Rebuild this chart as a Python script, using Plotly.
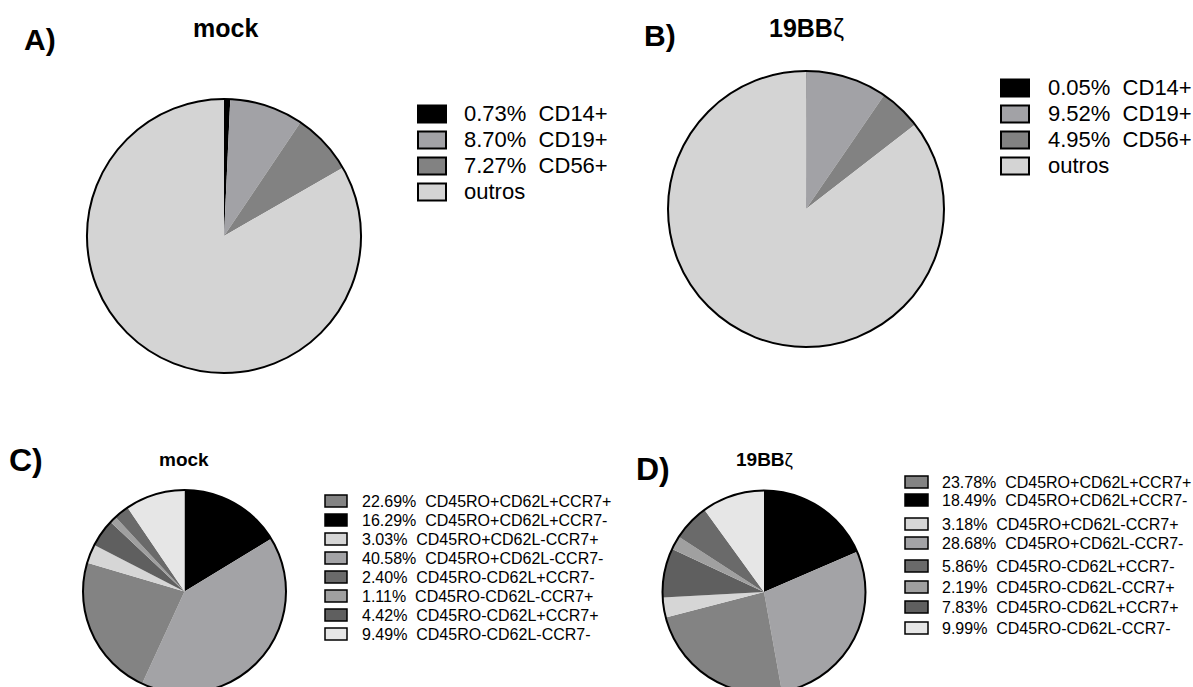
import plotly.graph_objects as go

W, H = 1193, 700  # page viewport is 687 tall; lower pies are cut at the bottom like the reference
FONT = "Liberation Sans, Arial, Helvetica, sans-serif"

# ---------------- data ----------------
top_labels = ["CD14+", "CD19+", "CD56+", "outros"]
mock_top = [0.73, 8.70, 7.27, 83.30]
car_top = [0.05, 9.52, 4.95, 85.48]
top_colors = ["#000000", "#a2a2a6", "#828282", "#d4d4d4"]

mem_labels = ["CD45RO+CD62L+CCR7+", "CD45RO+CD62L+CCR7-", "CD45RO+CD62L-CCR7+",
              "CD45RO+CD62L-CCR7-", "CD45RO-CD62L+CCR7-", "CD45RO-CD62L-CCR7+",
              "CD45RO-CD62L+CCR7+", "CD45RO-CD62L-CCR7-"]
mock_mem = [22.69, 16.29, 3.03, 40.58, 2.40, 1.11, 4.42, 9.49]
car_mem = [23.78, 18.49, 3.18, 28.68, 5.86, 2.19, 7.83, 9.99]
mem_colors = ["#838383", "#000000", "#d6d6d6", "#a3a3a6",
              "#6a6a6a", "#a0a0a0", "#5f5f5f", "#e6e6e6"]
# order in which the slices are drawn clockwise from 12 o'clock
mem_slice_order = [1, 3, 0, 2, 6, 5, 4, 7]


def px(x):
    return x / W


def py(y):
    return 1 - y / H


fig = go.Figure()


def add_pie(labels, values, colors, cx, cy, r, name):
    dom = dict(x=[px(cx - r), px(cx + r)], y=[py(cy + r), py(cy - r)])
    fig.add_trace(go.Pie(
        labels=labels, values=values, marker=dict(colors=colors, line=dict(width=0)),
        sort=False, direction="clockwise", rotation=0, textinfo="none",
        hoverinfo="label+value", showlegend=False, domain=dom, name=name))
    # outer outline only
    fig.add_trace(go.Pie(
        labels=[name + " outline"], values=[1],
        marker=dict(colors=["rgba(0,0,0,0)"], line=dict(color="black", width=2)),
        textinfo="none", hoverinfo="skip", showlegend=False, domain=dom, sort=False))


def add_legend(x0, rows, bw, bh, tx, colors, texts, size, lw):
    for y, c, t in zip(rows, colors, texts):
        fig.add_shape(type="rect", xref="paper", yref="paper",
                      x0=px(x0), x1=px(x0 + bw), y0=py(y + bh / 2), y1=py(y - bh / 2),
                      fillcolor=c, line=dict(color="black", width=lw))
        fig.add_annotation(x=px(tx), y=py(y), xref="paper", yref="paper", text=t,
                           xanchor="left", yanchor="middle", showarrow=False,
                           font=dict(family=FONT, size=size, color="black"))


def add_text(x, y, text, size):
    fig.add_annotation(x=px(x), y=py(y), xref="paper", yref="paper", text=text,
                       xanchor="center", yanchor="middle", showarrow=False,
                       font=dict(family=FONT, size=size, color="black"))


# A) and B)
add_pie(top_labels, mock_top, top_colors, 224, 236, 137, "mock")
add_pie(top_labels, car_top, top_colors, 806, 209, 138, "19BBz")


def top_text(vals):
    out = []
    for v, l in zip(vals, top_labels):
        out.append(l if l == "outros" else f"{v:.2f}%\u00a0 {l}")
    return out


add_legend(418, [114, 140, 166, 192], 28, 17, 462, top_colors, top_text(mock_top), 22, 2)
add_legend(1001, [88, 114, 140, 166], 28, 17, 1046, top_colors, top_text(car_top), 22, 2)

# C) and D)
for vals, cx, cy, nm in [(mock_mem, 184.5, 591.5, "mock mem"), (car_mem, 764, 592, "19BBz mem")]:
    add_pie([mem_labels[i] for i in mem_slice_order],
            [vals[i] for i in mem_slice_order],
            [mem_colors[i] for i in mem_slice_order], cx, cy, 101.5, nm)

add_legend(325, [501 + 19 * i for i in range(8)], 22, 12, 360, mem_colors,
           [f"{v:.2f}%\u00a0 {l}" for v, l in zip(mock_mem, mem_labels)], 16, 1.5)
add_legend(905, [482, 500, 524, 543, 566, 587, 607, 628], 23, 12, 940, mem_colors,
           [f"{v:.2f}%\u00a0 {l}" for v, l in zip(car_mem, mem_labels)], 16, 1.5)

# panel letters and titles
add_text(40, 39, "<b>A)</b>", 30)
add_text(225, 28, "<b>mock</b>", 25)
add_text(660, 36, "<b>B)</b>", 30)
add_text(806, 28, "<b>19BB</b>ζ", 25)
add_text(26, 460, "<b>C)</b>", 32)
add_text(184.5, 459, "<b>mock</b>", 19)
add_text(653, 469, "<b>D)</b>", 32)
add_text(765, 459, "<b>19BB</b>ζ", 19)

fig.update_layout(width=W, height=H, margin=dict(l=0, r=0, t=0, b=0),
                  paper_bgcolor="white", plot_bgcolor="white", showlegend=False,
                  font=dict(family=FONT))

fig.write_html(
    "out.html",
    config={"displayModeBar": False},
    post_script=("document.documentElement.style.margin='0';"
                 "document.body.style.margin='0';"
                 "document.documentElement.style.overflow='hidden';"
                 "document.body.style.overflow='hidden';"))
